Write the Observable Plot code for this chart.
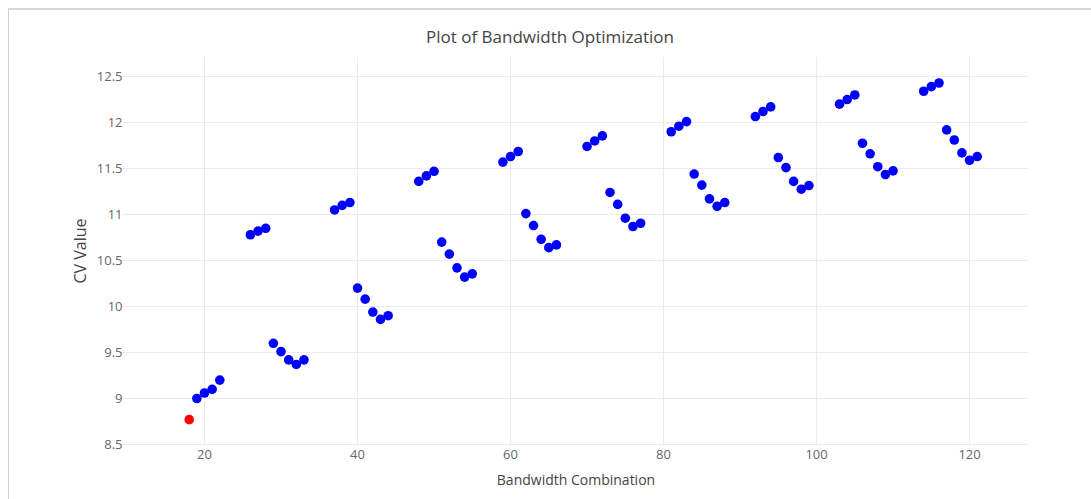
<!DOCTYPE html>
<html>
<head>
<meta charset="utf-8">
<script src="https://cdn.jsdelivr.net/npm/d3@7"></script>
<script src="https://cdn.jsdelivr.net/npm/@observablehq/plot@0.6"></script>
<style>
  html, body { margin: 0; padding: 0; background: #fff; }
  #wrap { position: relative; width: 1091px; height: 499px; overflow: hidden; }
  #frame { position: absolute; left: 8px; top: 8px; right: -2px; bottom: -2px;
           border-top: 2px solid #d6d6d6; border-left: 1px solid #cfcfcf; pointer-events: none; }
  #chart { position: absolute; left: 0; top: 0; }
</style>
</head>
<body>
<div id="wrap"><div id="chart"></div><div id="frame"></div></div>
<script>
const combination = [18, 19, 20, 21, 22,
  26, 27, 28, 29, 30, 31, 32, 33,
  37, 38, 39, 40, 41, 42, 43, 44,
  48, 49, 50, 51, 52, 53, 54, 55,
  59, 60, 61, 62, 63, 64, 65, 66,
  70, 71, 72, 73, 74, 75, 76, 77,
  81, 82, 83, 84, 85, 86, 87, 88,
  92, 93, 94, 95, 96, 97, 98, 99,
  103, 104, 105, 106, 107, 108, 109, 110,
  114, 115, 116, 117, 118, 119, 120, 121];
const cvValue = [8.77, 9.00, 9.06, 9.10, 9.20,
  10.78, 10.82, 10.85, 9.60, 9.51, 9.42, 9.37, 9.42,
  11.05, 11.10, 11.13, 10.20, 10.08, 9.94, 9.86, 9.90,
  11.36, 11.42, 11.47, 10.70, 10.57, 10.42, 10.32, 10.355,
  11.57, 11.63, 11.685, 11.01, 10.88, 10.73, 10.64, 10.67,
  11.74, 11.80, 11.855, 11.24, 11.11, 10.96, 10.87, 10.905,
  11.90, 11.96, 12.01, 11.44, 11.32, 11.17, 11.09, 11.13,
  12.065, 12.12, 12.17, 11.62, 11.51, 11.36, 11.275, 11.315,
  12.20, 12.25, 12.30, 11.775, 11.66, 11.52, 11.435, 11.475,
  12.34, 12.39, 12.43, 11.92, 11.81, 11.67, 11.59, 11.63];
const xTicks = [20, 40, 60, 80, 100, 120];
const yTicks = [8.5, 9, 9.5, 10, 10.5, 11, 11.5, 12, 12.5];
const titleText = "Plot of Bandwidth Optimization";
const xLabel = "Bandwidth Combination";
const yLabel = "CV Value";

const minIndex = d3.minIndex(cvValue);
const rows = combination.map((c, i) => ({x: c, y: cvValue[i], best: i === minIndex}));
const others = rows.filter(d => !d.best);
const best = rows.filter(d => d.best);
const fmt = d3.format("~g");

const chart = Plot.plot({
  width: 1091,
  height: 499,
  marginLeft: 123,
  marginRight: 63,
  marginTop: 57,
  marginBottom: 55,
  style: {fontFamily: "'Open Sans', sans-serif", background: "transparent", color: "#555"},
  x: {domain: [9.41, 127.7], ticks: xTicks, label: null},
  y: {domain: [8.5, 12.707], ticks: yTicks, label: null},
  marks: [
    Plot.gridX(xTicks, {stroke: "#ebebeb", strokeOpacity: 1, strokeWidth: 1}),
    Plot.gridY(yTicks, {stroke: "#ebebeb", strokeOpacity: 1, strokeWidth: 1}),
    Plot.axisX(xTicks, {tickSize: 0, tickPadding: 5, fontSize: 13, fill: "#666", label: null, tickFormat: fmt}),
    Plot.axisY(yTicks, {tickSize: 0, tickPadding: 1, fontSize: 13, fill: "#666", label: null, tickFormat: fmt}),
    Plot.dot(others, {x: "x", y: "y", r: 4.8, fill: "#0000ff", stroke: "none"}),
    Plot.dot(best, {x: "x", y: "y", r: 4.8, fill: "#ff0000", stroke: "none"}),
    Plot.text([titleText], {frameAnchor: "top", dx: -26, dy: -27, fontSize: 17, fill: "#444"}),
    Plot.text([xLabel], {frameAnchor: "bottom", dy: 40, fontSize: 14, fill: "#444"}),
    Plot.text([yLabel], {frameAnchor: "left", textAnchor: "middle", dx: -43, rotate: -90, fontSize: 16, fill: "#444"})
  ]
});
document.getElementById("chart").appendChild(chart);
</script>
</body>
</html>
